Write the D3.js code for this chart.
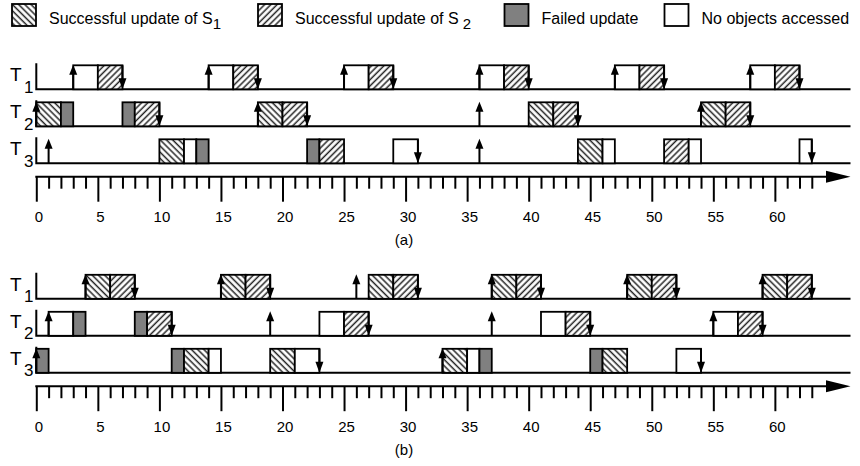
<!DOCTYPE html>
<html>
<head>
<meta charset="utf-8">
<script src="https://cdn.jsdelivr.net/npm/d3@7"></script>
<style>
  body { margin: 0; background: #fff; }
  svg { display: block; }
  text { font-family: Arial, "Liberation Sans", Helvetica, sans-serif; fill: #000; }
</style>
</head>
<body>
<svg></svg>
<script>
const WIDTH = 860;
const HEIGHT = 466;

// task rows, time ticks
const TASKS = ['1', '2', '3'];
const TICKS = d3.range(0, 64);
const TICK_LABELS = [0, 5, 10, 15, 20, 25, 30, 35, 40, 45, 50, 55, 60];

// legend
const LEGEND_KINDS = ['s1', 's2', 'fail', 'none'];
const LEGEND_TEXT = ['Successful update of S', 'Successful update of S', 'Failed update', 'No objects accessed'];
const LEGEND_SUB = ['1', '2', '', ''];

// panel (a): [task, start, end, kind]
const A_BLOCKS = [
  ['1', 3, 5, 'none'], ['1', 5, 7, 's2'], ['1', 14, 16, 'none'], ['1', 16, 18, 's2'],
  ['1', 25, 27, 'none'], ['1', 27, 29, 's2'], ['1', 36, 38, 'none'], ['1', 38, 40, 's2'],
  ['1', 47, 49, 'none'], ['1', 49, 51, 's2'], ['1', 58, 60, 'none'], ['1', 60, 62, 's2'],
  ['2', 0, 2, 's1'], ['2', 2, 3, 'fail'], ['2', 7, 8, 'fail'], ['2', 8, 10, 's2'],
  ['2', 18, 20, 's1'], ['2', 20, 22, 's2'], ['2', 40, 42, 's1'], ['2', 42, 44, 's2'],
  ['2', 54, 56, 's1'], ['2', 56, 58, 's2'],
  ['3', 10, 12, 's1'], ['3', 12, 13, 'none'], ['3', 13, 14, 'fail'], ['3', 22, 23, 'fail'],
  ['3', 23, 25, 's2'], ['3', 29, 31, 'none'], ['3', 44, 46, 's1'], ['3', 46, 47, 'none'],
  ['3', 51, 53, 's2'], ['3', 53, 54, 'none'], ['3', 62, 63, 'none']
];
const A_RELEASES = [
  ['1', 3], ['1', 14], ['1', 25], ['1', 36], ['1', 47], ['1', 58],
  ['2', 0], ['2', 18], ['2', 36], ['2', 54],
  ['3', 1], ['3', 36]
];
const A_FINISHES = [
  ['1', 7], ['1', 18], ['1', 29], ['1', 40], ['1', 51], ['1', 62],
  ['2', 10], ['2', 22], ['2', 44], ['2', 58],
  ['3', 31], ['3', 63]
];

// panel (b)
const B_BLOCKS = [
  ['1', 4, 6, 's1'], ['1', 6, 8, 's2'], ['1', 15, 17, 's1'], ['1', 17, 19, 's2'],
  ['1', 27, 29, 's1'], ['1', 29, 31, 's2'], ['1', 37, 39, 's1'], ['1', 39, 41, 's2'],
  ['1', 48, 50, 's1'], ['1', 50, 52, 's2'], ['1', 59, 61, 's1'], ['1', 61, 63, 's2'],
  ['2', 1, 3, 'none'], ['2', 3, 4, 'fail'], ['2', 8, 9, 'fail'], ['2', 9, 11, 's2'],
  ['2', 23, 25, 'none'], ['2', 25, 27, 's2'], ['2', 41, 43, 'none'], ['2', 43, 45, 's2'],
  ['2', 55, 57, 'none'], ['2', 57, 59, 's2'],
  ['3', 0, 1, 'fail'], ['3', 11, 12, 'fail'], ['3', 12, 14, 's1'], ['3', 14, 15, 'none'],
  ['3', 19, 21, 's1'], ['3', 21, 23, 'none'], ['3', 33, 35, 's1'], ['3', 35, 36, 'none'],
  ['3', 36, 37, 'fail'], ['3', 45, 46, 'fail'], ['3', 46, 48, 's1'], ['3', 52, 54, 'none']
];
const B_RELEASES = [
  ['1', 4], ['1', 15], ['1', 26], ['1', 37], ['1', 48], ['1', 59],
  ['2', 1], ['2', 19], ['2', 37], ['2', 55],
  ['3', 0], ['3', 33]
];
const B_FINISHES = [
  ['1', 8], ['1', 19], ['1', 31], ['1', 41], ['1', 52], ['1', 63],
  ['2', 11], ['2', 27], ['2', 45], ['2', 59],
  ['3', 23], ['3', 54]
];

const FILLS = { s1: 'url(#hatch-s1)', s2: 'url(#hatch-s2)', fail: '#808080', none: '#fff' };

const svg = d3.select('svg').attr('width', WIDTH).attr('height', HEIGHT);

// hatch patterns: s1 runs "\", s2 runs "/"
const defs = svg.append('defs');
[['s1', -45], ['s2', 45]].forEach(([id, angle]) => {
  const p = defs.append('pattern')
    .attr('id', 'hatch-' + id)
    .attr('patternUnits', 'userSpaceOnUse')
    .attr('width', 4.4)
    .attr('height', 10)
    .attr('patternTransform', `rotate(${angle})`);
  p.append('rect').attr('width', 4.4).attr('height', 10).attr('fill', '#fff');
  p.append('line')
    .attr('x1', 1.2).attr('y1', -1).attr('x2', 1.2).attr('y2', 11)
    .attr('stroke', '#222').attr('stroke-width', 1.5);
});

const x = d3.scaleLinear().domain([0, 63]).range([36.3, 811.8]);
const rowY = d3.scalePoint().domain(TASKS).range([89.3, 163.3]);
const BOX_H = 24;
const LINE_END = 850.5;
const AXIS_Y = 176.7;

// legend
const legend = svg.append('g');
const legendX = d3.scaleOrdinal().domain(LEGEND_KINDS).range([12, 258, 504.5, 664.5]);
LEGEND_KINDS.forEach((k, i) => {
  legend.append('rect')
    .attr('x', legendX(k)).attr('y', 4)
    .attr('width', 24).attr('height', 22)
    .attr('fill', FILLS[k]).attr('stroke', '#000').attr('stroke-width', 1.8);
  const t = legend.append('text')
    .attr('x', legendX(k) + 37).attr('y', 24)
    .attr('font-size', 16)
    .text(LEGEND_TEXT[i]);
  if (LEGEND_SUB[i]) {
    t.append('tspan')
      .attr('dx', i === 1 ? 4 : 0).attr('dy', 5)
      .attr('font-size', 15)
      .text(LEGEND_SUB[i]);
  }
});

function drawPanel(offsetY, blocks, releases, finishes, caption) {
  const g = svg.append('g').attr('transform', `translate(0, ${offsetY})`);

  // row labels
  TASKS.forEach((t) => {
    const label = g.append('text')
      .attr('x', 10).attr('y', rowY(t) - 8)
      .attr('font-size', 19)
      .text('T');
    label.append('tspan')
      .attr('x', 24).attr('y', rowY(t) + 3.5)
      .attr('font-size', 17)
      .text(t);
  });

  // baselines and left stubs
  g.selectAll('.row')
    .data(TASKS)
    .enter()
    .append('path')
    .attr('d', (t) => `M${x(0)},${rowY(t) - 26}V${rowY(t)}H${LINE_END}`)
    .attr('fill', 'none')
    .attr('stroke', '#000')
    .attr('stroke-width', 2);

  // blocks
  g.selectAll('.block')
    .data(blocks)
    .enter()
    .append('rect')
    .attr('x', (d) => x(d[1]))
    .attr('y', (d) => rowY(d[0]) - BOX_H)
    .attr('width', (d) => x(d[2]) - x(d[1]))
    .attr('height', BOX_H)
    .attr('fill', (d) => FILLS[d[3]])
    .attr('stroke', '#000')
    .attr('stroke-width', 1.8);

  // release arrows (up)
  const up = g.selectAll('.up').data(releases).enter().append('g');
  up.append('line')
    .attr('x1', (d) => x(d[1])).attr('x2', (d) => x(d[1]))
    .attr('y1', (d) => rowY(d[0])).attr('y2', (d) => rowY(d[0]) - BOX_H + 8)
    .attr('stroke', '#000').attr('stroke-width', 2);
  up.append('path')
    .attr('d', (d) => {
      const cx = x(d[1]), top = rowY(d[0]) - BOX_H - 0.5;
      return `M${cx},${top}L${cx - 4},${top + 10}L${cx + 4},${top + 10}Z`;
    })
    .attr('fill', '#000');

  // finish arrows (down)
  const down = g.selectAll('.down').data(finishes).enter().append('g');
  down.append('line')
    .attr('x1', (d) => x(d[1])).attr('x2', (d) => x(d[1]))
    .attr('y1', (d) => rowY(d[0]) - BOX_H).attr('y2', (d) => rowY(d[0]) - 8)
    .attr('stroke', '#000').attr('stroke-width', 2);
  down.append('path')
    .attr('d', (d) => {
      const cx = x(d[1]), base = rowY(d[0]);
      return `M${cx},${base}L${cx - 4},${base - 11}L${cx + 4},${base - 11}Z`;
    })
    .attr('fill', '#000');

  // time axis
  const axisG = g.append('g').attr('transform', `translate(0, ${AXIS_Y})`);
  axisG.call(
    d3.axisBottom(x)
      .tickValues(TICKS)
      .tickSize(12)
      .tickFormat((d) => (TICK_LABELS.includes(d) ? d : ''))
  );
  axisG.select('.domain').remove();
  axisG.selectAll('.tick line')
    .attr('y2', (d) => (TICK_LABELS.includes(d) ? 25 : 12))
    .attr('stroke', '#000')
    .attr('stroke-width', 2);
  axisG.selectAll('.tick text')
    .attr('y', 45.5).attr('dy', 0).attr('dx', 2)
    .attr('font-size', 15)
    .attr('font-family', 'Arial, "Liberation Sans", sans-serif')
    .attr('fill', '#000');
  axisG.append('line')
    .attr('x1', x(0) - 1).attr('x2', 828)
    .attr('stroke', '#000').attr('stroke-width', 2);
  axisG.append('path')
    .attr('d', `M826,-6L${LINE_END},0L826,6Z`)
    .attr('fill', '#000');

  g.append('text')
    .attr('x', 404).attr('y', 245)
    .attr('text-anchor', 'middle')
    .attr('font-size', 15)
    .text(caption);
}

drawPanel(0, A_BLOCKS, A_RELEASES, A_FINISHES, '(a)');
drawPanel(209.5, B_BLOCKS, B_RELEASES, B_FINISHES, '(b)');
</script>
</body>
</html>
